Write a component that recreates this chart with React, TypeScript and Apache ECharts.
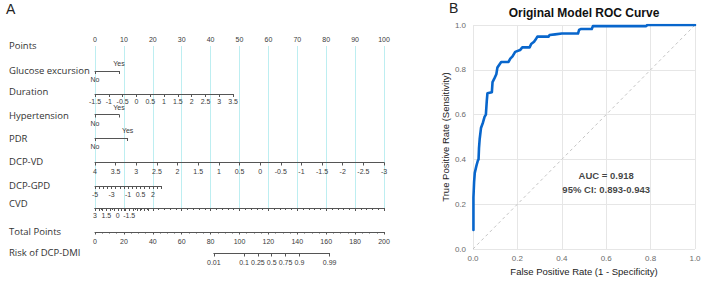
import React, { useEffect, useRef } from 'react';
import * as echarts from 'echarts';

// ---------- Nomogram data ----------
const rowNames = [
  'Points',
  'Glucose excursion',
  'Duration',
  'Hypertension',
  'PDR',
  'DCP-VD',
  'DCP-GPD',
  'CVD',
  'Total Points',
  'Risk of DCP-DMI',
];

const pointsRange = [0, 100];
const binaryLevels = ['No', 'Yes'];
const glucosePoints = [0, 8.3];
const hypertensionPoints = [0, 8.3];
const pdrPoints = [0, 11.3];

const durationRange = [-1.5, 3.5];
const durationPointsSpan = [0, 47.8];
const dcpVdRange = [4, -3];
const dcpVdPointsSpan = [0, 100];
const dcpGpdRange = [-5, 3];
const dcpGpdPointsSpan = [0, 22.9];
const dcpGpdLabels = [-5, -3, -1, 0.5, 2];
const cvdRange = [3, -4];
const cvdPointsSpan = [0, 18.4];
const cvdLabels = [3, 1.5, 0, -1.5];
const totalPointsRange = [0, 200];
const riskTicks = [0.01, 0.1, 0.25, 0.5, 0.75, 0.9, 0.99];
const riskMidTotalPoints = 122.3; // total points where risk = 0.5
const totalPointsPerLogit = 8.72;

// ---------- ROC data ----------
const rocFpr = [
  0.002, 0.002, 0.005, 0.008, 0.015, 0.022, 0.025, 0.027, 0.03, 0.036, 0.045, 0.052, 0.058,
  0.062, 0.065, 0.085, 0.088, 0.098, 0.105, 0.11, 0.12, 0.127, 0.16, 0.168, 0.178, 0.19,
  0.212, 0.222, 0.255, 0.262, 0.275, 0.282, 0.29, 0.34, 0.345, 0.37, 0.4, 0.473, 0.478,
  0.485, 0.535, 0.54, 0.78, 0.785, 1.0,
];
const rocTpr = [
  0.085, 0.23, 0.3, 0.34, 0.37, 0.395, 0.4, 0.45, 0.49, 0.54, 0.565, 0.59, 0.6,
  0.66, 0.695, 0.7, 0.745, 0.765, 0.78, 0.81, 0.825, 0.835, 0.835, 0.85, 0.86, 0.88,
  0.888, 0.9, 0.9, 0.915, 0.925, 0.935, 0.948, 0.948, 0.955, 0.958, 0.962, 0.962, 0.978,
  0.982, 0.982, 0.995, 0.995, 1.0, 1.0,
];
const diagonal = [[0, 0], [1, 1]];
const aucLines = ['AUC = 0.918', '95% CI: 0.893-0.943'];
const aucPos = [[0.6, 0.33], [0.6, 0.264]];
const rocTitle = 'Original Model ROC Curve';
const rocXName = 'False Positive Rate (1 - Specificity)';
const rocYName = 'True Positive Rate (Sensitivity)';

// ---------- layout ----------
const NOMO_LEFT = 95;
const NOMO_WIDTH = 289;
const rowAxisY = [46, 71, 94, 114.5, 138, 162.5, 186, 208, 232, 253.5];
const rowLabelY = [45, 70, 91, 115, 138, 161, 185, 203, 231, 252];
const TICK_FONT = 'Liberation Sans';
const ROW_FONT = 'Open Sans';
const AXIS_COLOR = '#555';
const TICK_LABEL_COLOR = '#3a3a3a';

const logit = (p: number) => Math.log(p / (1 - p));
const fmtNum = (v: number) => String(Math.round(v * 100) / 100);

export default function App() {
  const ref = useRef<HTMLDivElement>(null);

  useEffect(() => {
    document.body.style.margin = '0';
    if (!ref.current) return;
    const chart = echarts.init(ref.current, undefined, { renderer: 'svg' });

    const grids: any[] = [];
    const xAxes: any[] = [];
    const yAxes: any[] = [];
    const series: any[] = [];

    const ptsToPx = (p: number) => (p * NOMO_WIDTH) / (pointsRange[1] - pointsRange[0]);

    const labelBase = { fontSize: 7, color: TICK_LABEL_COLOR, fontFamily: TICK_FONT };
    const lineBase = { show: true, lineStyle: { color: AXIS_COLOR, width: 1 } };

    const addGrid = (left: number, top: number, width: number, height: number) => {
      grids.push({ left, top, width, height, outerBoundsMode: 'none', containLabel: false });
      const gi = grids.length - 1;
      yAxes.push({ gridIndex: gi, type: 'value', min: 0, max: 1, show: false });
      return gi;
    };

    // Points axis (with cyan reference lines)
    {
      const gi = addGrid(NOMO_LEFT, rowAxisY[0], NOMO_WIDTH, rowAxisY[7] - rowAxisY[0]);
      xAxes.push({
        gridIndex: gi,
        type: 'value',
        position: 'top',
        min: pointsRange[0],
        max: pointsRange[1],
        interval: 10,
        axisLine: lineBase,
        axisTick: { show: true, inside: true, length: 3, lineStyle: { color: AXIS_COLOR } },
        minorTick: { show: true, splitNumber: 5, length: 2, lineStyle: { color: AXIS_COLOR } },
        axisLabel: { ...labelBase, margin: 3 },
        splitLine: { show: true, lineStyle: { color: '#bdeef1', width: 1 } },
      });
    }

    // continuous rows
    const contRow = (
      row: number,
      range: number[],
      span: number[],
      interval: number,
      labels: number[] | null,
      margin: number,
    ) => {
      const left = NOMO_LEFT + ptsToPx(span[0]);
      const width = ptsToPx(span[1] - span[0]);
      const gi = addGrid(left, rowAxisY[row] - 1, width, 1);
      xAxes.push({
        gridIndex: gi,
        type: 'value',
        position: 'bottom',
        min: Math.min(range[0], range[1]),
        max: Math.max(range[0], range[1]),
        inverse: range[0] > range[1],
        interval,
        axisLine: lineBase,
        axisTick: { show: true, length: 3, lineStyle: { color: AXIS_COLOR } },
        axisLabel: {
          ...labelBase,
          margin,
          formatter: (v: number) => fmtNum(v),
          ...(labels ? { customValues: labels } : {}),
        },
        splitLine: { show: false },
      });
    };

    // binary rows
    const binRow = (row: number, pts: number[]) => {
      const left = NOMO_LEFT + ptsToPx(pts[0]);
      const width = ptsToPx(pts[1] - pts[0]);
      const gi = addGrid(left, rowAxisY[row] - 1, width, 1);
      xAxes.push({
        gridIndex: gi,
        type: 'value',
        position: 'bottom',
        min: 0,
        max: 1,
        axisLine: lineBase,
        axisTick: { show: true, length: 3, customValues: [0, 1], lineStyle: { color: AXIS_COLOR } },
        axisLabel: { ...labelBase, margin: 5, customValues: [0], formatter: () => binaryLevels[0] },
        splitLine: { show: false },
      });
      xAxes.push({
        gridIndex: gi,
        type: 'value',
        position: 'top',
        min: 0,
        max: 1,
        axisLine: { show: false },
        axisTick: { show: false },
        axisLabel: { ...labelBase, margin: 3, customValues: [1], formatter: () => binaryLevels[1] },
        splitLine: { show: false },
      });
    };

    binRow(1, glucosePoints);
    contRow(2, durationRange, durationPointsSpan, 0.5, null, 4);
    binRow(3, hypertensionPoints);
    binRow(4, pdrPoints);
    contRow(5, dcpVdRange, dcpVdPointsSpan, 0.5, null, 5);
    contRow(6, dcpGpdRange, dcpGpdPointsSpan, 0.5, dcpGpdLabels, 5);
    contRow(7, cvdRange, cvdPointsSpan, 0.5, cvdLabels, 4);

    // Total points
    {
      const gi = addGrid(NOMO_LEFT, rowAxisY[8] - 1, NOMO_WIDTH, 1);
      xAxes.push({
        gridIndex: gi,
        type: 'value',
        position: 'bottom',
        min: totalPointsRange[0],
        max: totalPointsRange[1],
        interval: 20,
        axisLine: lineBase,
        axisTick: { show: true, length: 2.5, lineStyle: { color: AXIS_COLOR } },
        minorTick: { show: true, splitNumber: 4, length: 1.5, lineStyle: { color: AXIS_COLOR } },
        axisLabel: { ...labelBase, margin: 6 },
        splitLine: { show: false },
      });
    }

    // Risk axis (logit scale)
    {
      const tpPx = NOMO_WIDTH / (totalPointsRange[1] - totalPointsRange[0]);
      const lo = logit(riskTicks[0]);
      const hi = logit(riskTicks[riskTicks.length - 1]);
      const left = NOMO_LEFT + (riskMidTotalPoints + lo * totalPointsPerLogit) * tpPx;
      const width = (hi - lo) * totalPointsPerLogit * tpPx;
      const gi = addGrid(left, rowAxisY[9] - 1, width, 1);
      const logits = riskTicks.map(logit);
      xAxes.push({
        gridIndex: gi,
        type: 'value',
        position: 'bottom',
        min: lo,
        max: hi,
        axisLine: lineBase,
        axisTick: { show: true, length: 3, customValues: logits, lineStyle: { color: AXIS_COLOR } },
        axisLabel: {
          ...labelBase,
          margin: 5,
          customValues: logits,
          formatter: (v: number) => {
            let best = 0;
            logits.forEach((l, i) => {
              if (Math.abs(l - v) < Math.abs(logits[best] - v)) best = i;
            });
            return String(riskTicks[best]);
          },
        },
        splitLine: { show: false },
      });
    }

    // ---------- ROC ----------
    const rocGrid = grids.length;
    grids.push({ left: 473, top: 25, width: 222, height: 224, outerBoundsMode: 'none', containLabel: false });
    const rocAxisCommon = {
      type: 'value',
      min: 0,
      max: 1,
      interval: 0.2,
      axisLine: { show: false },
      axisTick: { show: false },
      splitLine: { show: true, lineStyle: { color: '#e6e6e6', width: 1 } },
      axisLabel: {
        fontSize: 8,
        color: '#6b6b6b',
        fontFamily: TICK_FONT,
        formatter: (v: number) => v.toFixed(1),
      },
      nameLocation: 'middle',
      nameTextStyle: { fontSize: 9.5, color: '#222', fontFamily: TICK_FONT },
    };
    const rocXIndex = xAxes.length;
    xAxes.push({
      ...rocAxisCommon,
      gridIndex: rocGrid,
      name: rocXName,
      nameGap: 16,
      axisLabel: { ...rocAxisCommon.axisLabel, margin: 5 },
    });
    const rocYIndex = yAxes.length;
    yAxes.push({
      ...rocAxisCommon,
      gridIndex: rocGrid,
      name: rocYName,
      nameGap: 20,
      axisLabel: { ...rocAxisCommon.axisLabel, margin: 7 },
    });

    series.push({
      type: 'line',
      xAxisIndex: rocXIndex,
      yAxisIndex: rocYIndex,
      data: diagonal,
      symbol: 'none',
      lineStyle: { color: '#c4c4c4', width: 1, type: [3, 3] },
      silent: true,
    });
    series.push({
      type: 'line',
      xAxisIndex: rocXIndex,
      yAxisIndex: rocYIndex,
      data: rocFpr.map((f, i) => [f, rocTpr[i]]),
      symbol: 'none',
      lineStyle: { color: '#0866cc', width: 2.6, join: 'round', cap: 'round' },
    });
    series.push({
      type: 'scatter',
      xAxisIndex: rocXIndex,
      yAxisIndex: rocYIndex,
      symbolSize: 0,
      data: aucPos.map((p, i) => [p[0], p[1], aucLines[i]]),
      label: {
        show: true,
        position: 'inside',
        formatter: (p: any) => p.data[2],
        fontSize: 9.5,
        fontWeight: 'bold',
        color: '#111',
        fontFamily: TICK_FONT,
      },
    });

    const graphics: any[] = [
      { type: 'text', left: 6, top: 2, style: { text: 'A', fontSize: 14, fill: '#222', fontFamily: TICK_FONT } },
      { type: 'text', left: 449, top: 1, style: { text: 'B', fontSize: 14, fill: '#222', fontFamily: TICK_FONT } },
      {
        type: 'text',
        x: 584,
        y: 13,
        style: {
          text: rocTitle,
          fontSize: 12,
          fontWeight: 'bold',
          fill: '#111',
          fontFamily: TICK_FONT,
          align: 'center',
          verticalAlign: 'middle',
        },
      },
      ...rowNames.map((n, i) => ({
        type: 'text',
        x: 9,
        y: rowLabelY[i],
        style: {
          text: n,
          fontSize: 9.5,
          fill: '#333',
          fontFamily: ROW_FONT,
          align: 'left',
          verticalAlign: 'middle',
        },
      })),
    ];

    chart.setOption({
      animation: false,
      backgroundColor: '#fff',
      grid: grids,
      xAxis: xAxes,
      yAxis: yAxes,
      series,
      graphic: graphics,
    });

    return () => chart.dispose();
  }, []);

  return <div ref={ref} style={{ width: 704, height: 281 }} />;
}
